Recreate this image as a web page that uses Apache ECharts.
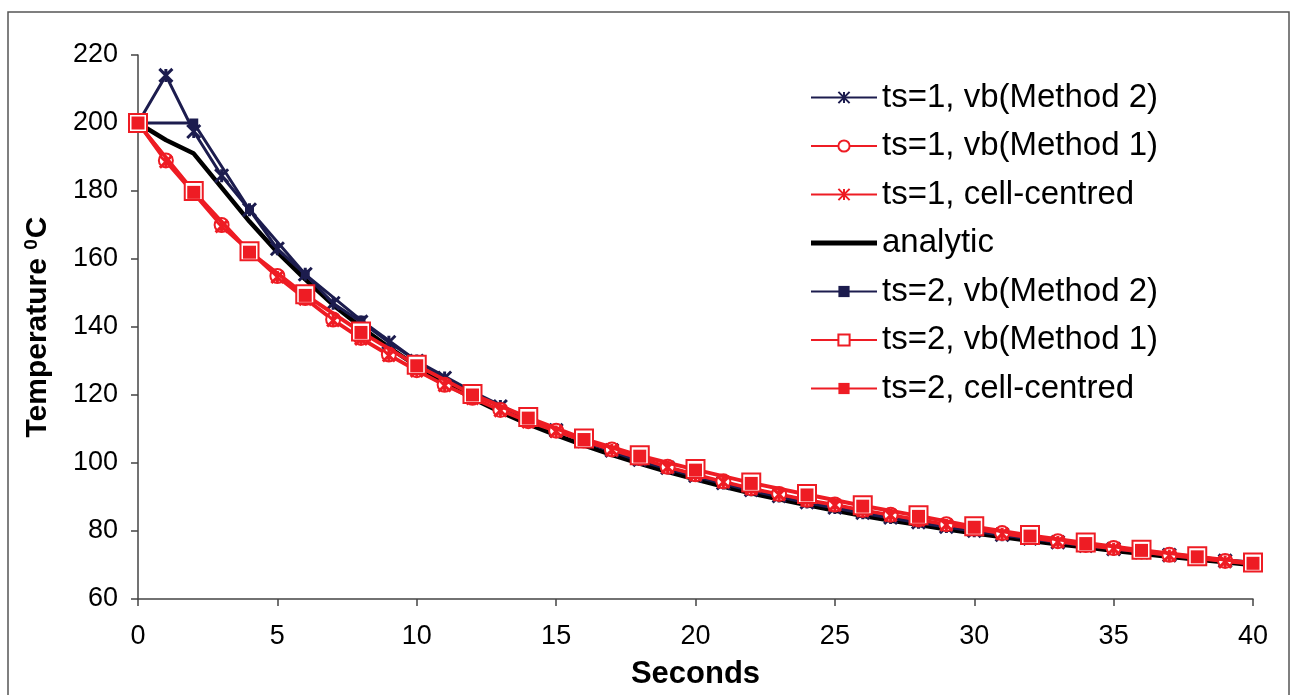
<!DOCTYPE html>
<html>
<head>
<meta charset="utf-8">
<title>Temperature vs seconds</title>
<script src="https://cdn.jsdelivr.net/npm/echarts/dist/echarts.min.js"></script>
<style>
  html, body { margin: 0; padding: 0; background: #fff; overflow: hidden; }
  #chart { width: 1295px; height: 695px; }
</style>
</head>
<body>
<div id="chart"></div>
<script>
// time steps (seconds)
var secondsTs1 = [0,1,2,3,4,5,6,7,8,9,10,11,12,13,14,15,16,17,18,19,20,21,22,23,24,25,26,27,28,29,30,31,32,33,34,35,36,37,38,39,40]
var secondsTs2 = [0,2,4,6,8,10,12,14,16,18,20,22,24,26,28,30,32,34,36,38,40]

// temperatures
var ts1Method2 = [200,214,197.5,184.5,174.5,163,155.5,147,141.5,135.5,130,125,120.8,116.6,112.9,109.6,106.5,103.7,101,98.6,96.3,94.1,92.1,90.3,88.5,86.9,85.4,84,82.6,81.3,80.1,78.9,77.8,76.7,75.7,74.7,73.8,72.9,72,71.2,70.4]
var ts1Method1 = [200,189,179.5,170,162.5,155,148.5,142.2,136.8,131.9,127.3,123,119.2,115.6,112.3,109.5,106.6,104,101.5,98.9,96.7,94.6,92.6,90.9,89.2,87.8,86.2,84.8,83.4,82,80.8,79.4,78.2,77,75.9,75,74,73,72.1,71.2,70.4]
var ts1Cell = [200,188.6,179.2,169.6,162.2,154.7,148.2,141.9,136.5,131.6,127.1,122.8,119,115.4,112.1,109.3,106.4,103.8,101.3,98.7,96.5,94.4,92.4,90.7,89,87.6,86,84.6,83.2,81.8,80.6,79.2,78,76.8,75.7,74.8,73.8,72.8,71.9,71,70.2]
var analytic = [200,195,191,181,171,162,154,146.5,140,134,128.5,123.5,119,115,111.4,108.2,105.2,102.4,99.8,97.4,95.2,93.1,91.1,89.3,87.6,86,84.5,83.1,81.8,80.5,79.3,78.2,77.1,76.1,75.2,74.2,73.3,72.4,71.6,70.8,70]
var ts2Method2 = [200,200,174.5,155.5,142,130,121,113,106.2,100.6,96,91.8,88.3,85.2,82.4,79.9,77.7,75.7,74,72.3,70.8]
var ts2Method1 = [200,180,162.3,149.6,138.7,128.9,120.3,113.5,107.2,102.3,98.2,94.3,90.9,87.6,84.6,81.4,78.8,76.6,74.5,72.6,70.7]
var ts2Cell = [200,179.6,162,149.3,138.4,128.6,120,113.2,106.9,102,97.9,94,90.6,87.3,84.3,81.1,78.5,76.3,74.3,72.4,70.5]

var legendNames = ['ts=1, vb(Method 2)','ts=1, vb(Method 1)','ts=1, cell-centred','analytic','ts=2, vb(Method 2)','ts=2, vb(Method 1)','ts=2, cell-centred']

var navy = '#1c1c4e'
var red = '#ee1c24'
var font = 'Liberation Sans, Arial, sans-serif'
// asterisk marker like the excel "*"
var star = 'path://M0,0L10,10M0,10L10,0M5,0L5,10'

function pairs(xs, ys){
  return xs.map(function(x, i){ return [x, ys[i]] })
}

var chart = echarts.init(document.getElementById('chart'))

var option = {
  animation: false,
  backgroundColor: '#fff',
  textStyle: { fontFamily: font },
  graphic: [
    {
      type: 'rect',
      shape: { x: 8, y: 12, width: 1281, height: 700 },
      style: { fill: 'none', stroke: '#555', lineWidth: 1.5 },
      silent: true
    }
  ],
  grid: { left: 138, top: 55, right: 42, bottom: 88 },
  legend: {
    orient: 'vertical',
    left: 810,
    top: 81,
    padding: 0,
    itemWidth: 66,
    itemHeight: 14,
    itemGap: 15.5,
    textStyle: { fontSize: 33, color: '#000', fontFamily: font, lineHeight: 32 },
    data: legendNames.map(function(n){
      // analytic is only a thick line in the key
      if(n === 'analytic') return { name: n, icon: 'path://M0,0H66V5H0Z' }
      return { name: n }
    })
  },
  xAxis: {
    type: 'value',
    min: 0,
    max: 40,
    interval: 5,
    name: 'Seconds',
    nameLocation: 'middle',
    nameGap: 60,
    nameTextStyle: { fontSize: 31, fontWeight: 'bold', color: '#000', fontFamily: font },
    axisLine: { lineStyle: { color: '#444', width: 1.5 } },
    axisTick: { length: 7, lineStyle: { color: '#444', width: 1.5 } },
    axisLabel: { fontSize: 27, color: '#000', margin: 24 },
    splitLine: { show: false }
  },
  yAxis: {
    type: 'value',
    min: 60,
    max: 220,
    interval: 20,
    name: '{a|Temperature }{s|0}{a|C}',
    nameLocation: 'middle',
    nameGap: 84,
    nameRotate: 90,
    nameTextStyle: {
      rich: {
        a: { fontSize: 30, fontWeight: 'bold', color: '#000', fontFamily: font },
        s: { fontSize: 19, fontWeight: 'bold', color: '#000', fontFamily: font, verticalAlign: 'top', padding: [0, 1, 13, 0] }
      }
    },
    axisLine: { show: true, lineStyle: { color: '#444', width: 1.5 } },
    axisTick: { show: true, length: 7, lineStyle: { color: '#444', width: 1.5 } },
    axisLabel: { fontSize: 27, color: '#000', margin: 20 },
    splitLine: { show: false }
  },
  series: [
    {
      name: 'analytic',
      type: 'line',
      z: 1,
      data: pairs(secondsTs1, analytic),
      symbol: 'none',
      color: '#000',
      lineStyle: { color: '#000', width: 4.5 }
    },
    {
      name: 'ts=1, vb(Method 2)',
      type: 'line',
      z: 2,
      data: pairs(secondsTs1, ts1Method2),
      symbol: star,
      symbolSize: 13,
      color: navy,
      lineStyle: { color: navy, width: 3 },
      itemStyle: { color: navy, borderColor: navy, borderWidth: 3 }
    },
    {
      name: 'ts=2, vb(Method 2)',
      type: 'line',
      z: 2,
      data: pairs(secondsTs2, ts2Method2),
      symbol: 'rect',
      symbolSize: 9,
      color: navy,
      lineStyle: { color: navy, width: 3 },
      itemStyle: { color: navy, borderWidth: 0 }
    },
    {
      name: 'ts=1, vb(Method 1)',
      type: 'line',
      z: 3,
      data: pairs(secondsTs1, ts1Method1),
      symbol: 'emptyCircle',
      symbolSize: 14,
      color: red,
      lineStyle: { color: red, width: 3 },
      itemStyle: { color: red, borderColor: red, borderWidth: 3 }
    },
    {
      name: 'ts=1, cell-centred',
      type: 'line',
      z: 3,
      data: pairs(secondsTs1, ts1Cell),
      symbol: star,
      symbolSize: 12,
      color: red,
      lineStyle: { color: red, width: 3 },
      itemStyle: { color: red, borderColor: red, borderWidth: 3 }
    },
    {
      name: 'ts=2, vb(Method 1)',
      type: 'line',
      z: 4,
      data: pairs(secondsTs2, ts2Method1),
      symbol: 'emptyRect',
      symbolSize: 18,
      color: red,
      lineStyle: { color: red, width: 3 },
      itemStyle: { color: red, borderColor: red, borderWidth: 3 }
    },
    {
      name: 'ts=2, cell-centred',
      type: 'line',
      z: 4,
      data: pairs(secondsTs2, ts2Cell),
      symbol: 'rect',
      symbolSize: 13,
      color: red,
      lineStyle: { color: red, width: 3 },
      itemStyle: { color: red, borderWidth: 0 }
    }
  ]
}

chart.setOption(option)
</script>
</body>
</html>
